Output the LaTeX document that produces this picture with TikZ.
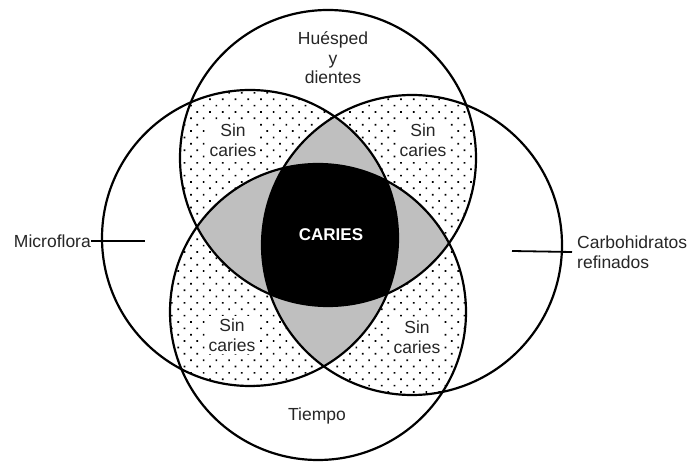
\documentclass[tikz,border=0pt]{standalone}
\usepackage{fontspec}
\setmainfont{Liberation Sans}
\usetikzlibrary{patterns.meta}
\begin{document}
\begin{tikzpicture}[x=1pt,y=-1pt,
  ring/.style={draw=black, line width=2.2pt},
  lbl/.style={text=black!85, font=\fontsize{17.5}{19.5}\selectfont, align=center, inner sep=0pt},
  nodots/.style={fill=white, inner xsep=4pt, inner ysep=3pt},
  dotfill/.style={pattern={Dots[distance=9pt, radius=1.2pt, angle=45]}, pattern color=black},
  lobe/.style={fill=black!25},
  core/.style={fill=black},
  leader/.style={draw=black, line width=1.8pt}]
\useasboundingbox (0,0) rectangle (691,462);
\fill[white] (0,0) rectangle (691,462);
% circle centres
\coordinate (cT) at (328,158);
\coordinate (cL) at (250,238);
\coordinate (cR) at (412,245);
\coordinate (cB) at (318,312);
% pairwise (dotted) regions
\begin{scope}\clip (cT) circle[radius=148pt]; \clip (cL) circle[radius=148pt];
  \fill[dotfill] (0,0) rectangle (691,462);\end{scope}
\begin{scope}\clip (cT) circle[radius=148pt]; \clip (cR) circle[radius=150pt];
  \fill[dotfill] (0,0) rectangle (691,462);\end{scope}
\begin{scope}\clip (cL) circle[radius=148pt]; \clip (cB) circle[radius=148pt];
  \fill[dotfill] (0,0) rectangle (691,462);\end{scope}
\begin{scope}\clip (cR) circle[radius=150pt]; \clip (cB) circle[radius=148pt];
  \fill[dotfill] (0,0) rectangle (691,462);\end{scope}
% triple (gray) regions
\begin{scope}\clip (cT) circle[radius=148pt]; \clip (cL) circle[radius=148pt]; \clip (cR) circle[radius=150pt];
  \fill[lobe] (0,0) rectangle (691,462);\end{scope}
\begin{scope}\clip (cT) circle[radius=148pt]; \clip (cL) circle[radius=148pt]; \clip (cB) circle[radius=148pt];
  \fill[lobe] (0,0) rectangle (691,462);\end{scope}
\begin{scope}\clip (cT) circle[radius=148pt]; \clip (cR) circle[radius=150pt]; \clip (cB) circle[radius=148pt];
  \fill[lobe] (0,0) rectangle (691,462);\end{scope}
\begin{scope}\clip (cL) circle[radius=148pt]; \clip (cR) circle[radius=150pt]; \clip (cB) circle[radius=148pt];
  \fill[lobe] (0,0) rectangle (691,462);\end{scope}
% quadruple (black) region
\begin{scope}\clip (cT) circle[radius=148pt]; \clip (cL) circle[radius=148pt]; \clip (cR) circle[radius=150pt]; \clip (cB) circle[radius=148pt];
  \fill[core] (0,0) rectangle (691,462);\end{scope}
% outlines
\draw[ring] (cT) circle[radius=148pt];
\draw[ring] (cL) circle[radius=148pt];
\draw[ring] (cR) circle[radius=150pt];
\draw[ring] (cB) circle[radius=148pt];
% labels
\node[lbl] (host) at (333,58) {Huésped\\y\\dientes};
\node[lbl, nodots] (sc1) at (233,140) {Sin\\caries};
\node[lbl, nodots] (sc2) at (423,140) {Sin\\caries};
\node[lbl, nodots] (sc3) at (232,335) {Sin\\caries};
\node[lbl, nodots] (sc4) at (417,337) {Sin\\caries};
\node[lbl] (time) at (317,416) {Tiempo};
\node[lbl, text=white, font=\bfseries\fontsize{17}{19}\selectfont] (caries) at (331,235) {CARIES};
\node[lbl, anchor=east] (micro) at (91,241) {Microflora};
\coordinate (microEnd) at (145,241);
\draw[leader] (micro.east) -- (microEnd);
\node[lbl, anchor=west, align=left, inner xsep=5pt] (carbo) at (572,252) {Carbohidratos\\refinados};
\coordinate (carboEnd) at (512,251);
\draw[leader] (carboEnd) -- (carbo.west);
\end{tikzpicture}
\end{document}
